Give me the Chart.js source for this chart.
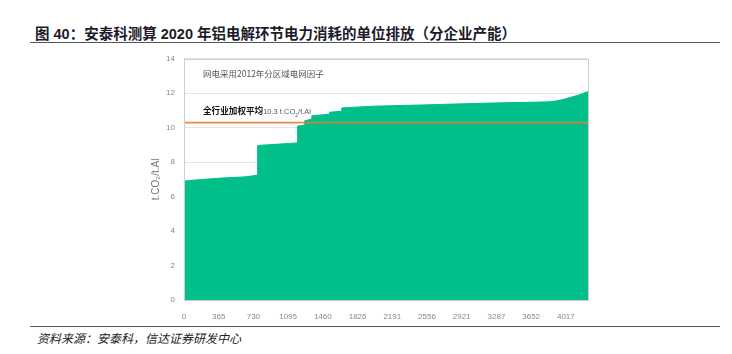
<!DOCTYPE html>
<html>
<head>
<meta charset="utf-8">
<script src="https://cdn.jsdelivr.net/npm/chart.js@4.4.1/dist/chart.umd.min.js"></script>
<style>
  body { margin: 0; background: #fff; }
  #wrap { position: relative; width: 732px; height: 354px; overflow: hidden; font-family: "Liberation Sans", "Noto Sans CJK SC", sans-serif; }
  #titulo { position: absolute; left: 35px; top: 22px; font-size: 14.5px; font-weight: bold; color: #1b1b2b; white-space: nowrap; font-family: "Liberation Sans", "Noto Sans CJK SC", sans-serif; }
  .linha { position: absolute; left: 30px; width: 690px; height: 1px; background: #555; }
  #fonte { position: absolute; left: 37px; top: 329px; font-size: 12px; font-style: italic; color: #222; font-family: "Noto Sans CJK SC", sans-serif; white-space: nowrap; }
  #grafico-box { position: absolute; left: 150px; top: 45px; width: 450px; height: 275px; }
  .nota { position: absolute; white-space: nowrap; font-family: "Noto Sans CJK SC", sans-serif; }
</style>
</head>
<body>
<div id="wrap">
  <div id="titulo">图&nbsp;40：安泰科测算 2020 年铝电解环节电力消耗的单位排放（分企业产能）</div>
  <div class="linha" style="top:42px"></div>
  <div id="grafico-box"><canvas id="graficoEmissao" width="450" height="275"></canvas></div>
  <div class="nota" style="left:203px; top:67px; font-size:8.5px; color:#555;">网电采用2012年分区域电网因子</div>
  <div class="nota" style="left:203px; top:104px; font-size:8.6px; color:#111; font-weight:bold;">全行业加权平均<span style="font-weight:normal; font-size:7.5px; color:#4a5a7a; font-family:'Liberation Sans',sans-serif;">10.3 t.CO<sub style="font-size:5px">2</sub>/t.Al</span></div>
  <div class="linha" style="top:326px"></div>
  <div id="fonte">资料来源：安泰科，信达证券研发中心</div>
</div>
<script>
// capacidade acumulada (eixo x) e emissao unitaria
const capacidade = [0, 150, 400, 650, 775, 775, 1000, 1195, 1195, 1270, 1270, 1345, 1345, 1530, 1530, 1660, 1660, 2000, 2500, 3220, 3850, 3960, 4060, 4166, 4250];
const emissao = [6.9, 6.98, 7.08, 7.15, 7.25, 8.97, 9.05, 9.12, 10.1, 10.15, 10.4, 10.5, 10.7, 10.78, 10.9, 10.95, 11.15, 11.25, 11.32, 11.43, 11.5, 11.6, 11.75, 11.92, 12.1];
const mediaSetor = 10.3;
const ticksX = [0, 365, 730, 1095, 1460, 1826, 2191, 2556, 2921, 3287, 3652, 4017];
const ticksY = [0, 2, 4, 6, 8, 10, 12, 14];

const pontos = capacidade.map((c, i) => ({ x: c, y: emissao[i] }));
const linhaMedia = [{ x: 0, y: mediaSetor }, { x: 4250, y: mediaSetor }];

// moldura cinza em volta da area do grafico
const moldura = {
  id: 'moldura',
  afterDatasetsDraw(chart) {
    const a = chart.chartArea;
    const ctx = chart.ctx;
    ctx.save();
    ctx.strokeStyle = '#cfcfcf';
    ctx.lineWidth = 1;
    ctx.strokeRect(Math.round(a.left) + 0.5, Math.round(a.top) + 0.5, Math.round(a.right - a.left), Math.round(a.bottom - a.top));
    ctx.restore();
  }
};

const ctx = document.getElementById('graficoEmissao').getContext('2d');
const grafico = new Chart(ctx, {
  type: 'line',
  data: {
    datasets: [{
      data: linhaMedia,
      borderColor: 'rgba(232,125,50,0.9)',
      borderWidth: 1.8,
      pointRadius: 0,
      fill: false,
      order: 0
    }, {
      data: pontos,
      borderColor: '#00bf8a',
      backgroundColor: '#00bf8a',
      borderWidth: 1,
      pointRadius: 0,
      tension: 0,
      fill: 'origin',
      order: 1
    }]
  },
  options: {
    responsive: false,
    animation: false,
    layout: { padding: { top: 7, right: 12, bottom: 0, left: 0 } },
    plugins: {
      legend: { display: false },
      tooltip: { enabled: false }
    },
    scales: {
      x: {
        type: 'linear',
        min: 0,
        max: 4250,
        afterBuildTicks: (s) => { s.ticks = ticksX.map(v => ({ value: v })); },
        afterFit: (s) => { s.height = 20; },
        grid: { display: false },
        border: { color: '#cfcfcf' },
        ticks: { color: '#888', font: { size: 8, family: 'Liberation Sans' }, maxRotation: 0, autoSkip: false, padding: 4, callback: (v) => String(v) }
      },
      y: {
        min: 0,
        max: 14,
        afterBuildTicks: (s) => { s.ticks = ticksY.map(v => ({ value: v })); },
        afterFit: (s) => { s.width = 34; },
        grid: { color: '#e4e4e4', drawTicks: false },
        border: { color: '#cfcfcf' },
        ticks: { color: '#888', font: { size: 8, family: 'Liberation Sans' }, padding: 9 },
        title: { display: true, text: 't.CO₂/t.Al', color: '#777', font: { size: 10, family: 'Liberation Sans' }, padding: { top: 0, bottom: 0 } }
      }
    }
  },
  plugins: [moldura]
});
</script>
</body>
</html>
